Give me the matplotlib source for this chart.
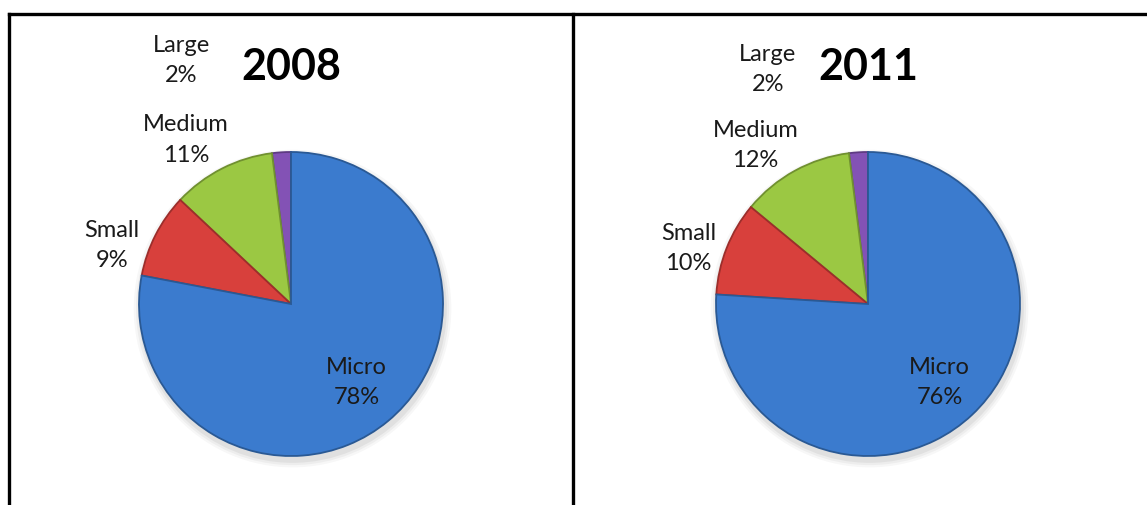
"""
    Enterprise size shares, 2008 vs 2011
"""
import matplotlib.pyplot as plt
import matplotlib.colors as mcolors
from matplotlib.lines import Line2D

plt.rcParams['font.family'] = ['Lato', 'DejaVu Sans']

CATEGORIES = ["Large", "Medium", "Small", "Micro"]
YEARS = ["2008", "2011"]
SHARES_2008 = [2, 11, 9, 78]
SHARES_2011 = [2, 12, 10, 76]

COLORS = ["#8352b5", "#9bc843", "#d8403c", "#3b7bce"]

# label centres in pie-radius units, one per category
LABEL_POS = {
    "2008": [(-0.72, 1.61), (-0.69, 1.085), (-1.18, 0.39), (0.43, -0.51)],
    "2011": [(-0.66, 1.55), (-0.74, 1.05), (-1.18, 0.37), (0.47, -0.51)],
}

W, H = 1147, 506
R = 152  # pie radius in pixels

fig = plt.figure(figsize=(W / 100, H / 100), dpi=100)


def darker(color, f=0.7):
    r, g, b = mcolors.to_rgb(color)
    return (r * f, g * f, b * f)


def draw_panel(left, right, cx, cy, year, shares):
    # axes spans the panel below the top border; limits put 1 unit = R px
    top = 16
    ax = fig.add_axes([left / W, 0, (right - left) / W, (H - top) / H])

    # soft shadow under the pie
    for i, a in enumerate([0.05, 0.04, 0.03]):
        ax.add_patch(plt.Circle((0.01, -0.03), 1.0 + 0.015 * (i + 1),
                                color="#000000", alpha=a, lw=0))

    wedges, _ = ax.pie(shares, colors=COLORS, startangle=90,
                       counterclock=True, radius=1.0, center=(0, 0),
                       frame=True,
                       wedgeprops=dict(linewidth=1.3))
    for w, c in zip(wedges, COLORS):
        w.set_edgecolor(darker(c, 0.72))
    ax.set_xlim(-(cx - left) / R, (right - cx) / R)
    ax.set_ylim(-(H - cy) / R, (cy - top) / R)
    ax.axis("off")

    for name, share, (x, y) in zip(CATEGORIES, shares, LABEL_POS[year]):
        ax.text(x, y, f"{name}\n{share}%", ha="center", va="center",
                fontsize=17, color="#1a1a1a", linespacing=1.55)

    ax.text(0, 1.565, year, ha="center", va="center", fontsize=31,
            fontweight="bold", color="black")


draw_panel(10, 572, 291, 305, "2008", SHARES_2008)
draw_panel(574, 1147, 868, 305, "2011", SHARES_2011)

# panel borders
lw = 2.4
fig.add_artist(Line2D([9 / W, 1.0], [1 - 15 / H, 1 - 15 / H], color="black", lw=lw))
fig.add_artist(Line2D([9 / W, 9 / W], [0, 1 - 15 / H], color="black", lw=lw))
fig.add_artist(Line2D([573 / W, 573 / W], [0, 1 - 15 / H], color="black", lw=lw))

fig.savefig("out.png", dpi=100)
